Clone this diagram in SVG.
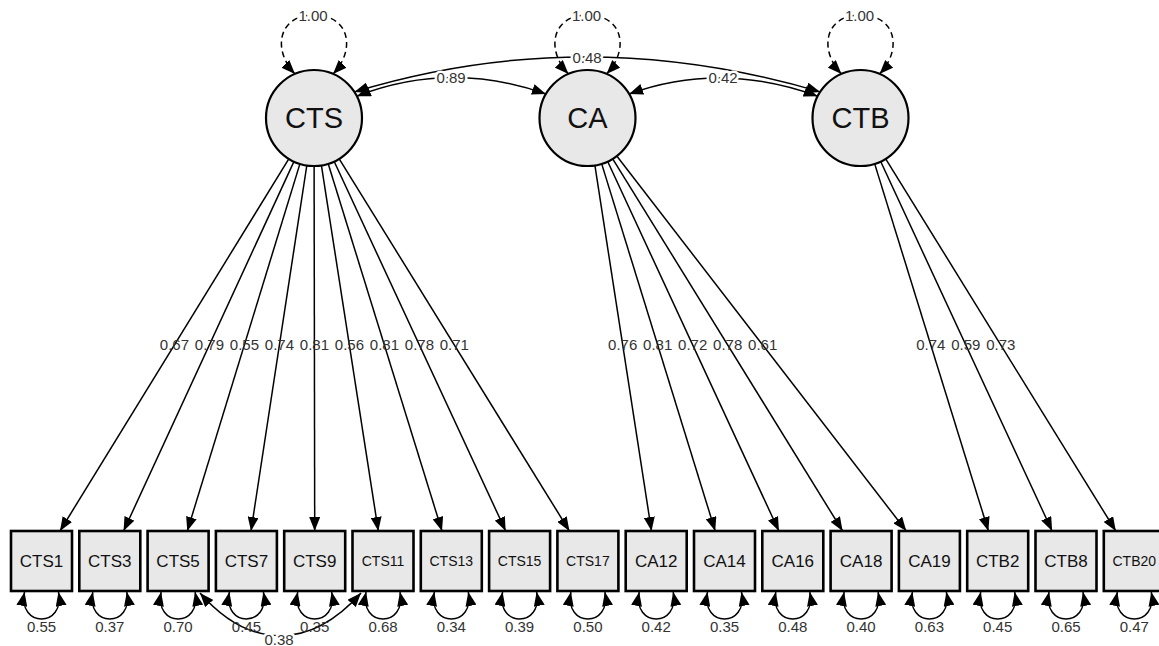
<svg xmlns="http://www.w3.org/2000/svg" width="1159" height="646" viewBox="0 0 1159 646">
  <style>
    .lat { fill: #e8e8e8; stroke: #000; stroke-width: 2.2; }
    .man { fill: #e8e8e8; stroke: #000; stroke-width: 2.6; }
    .latname { font-family: "Liberation Sans", Arial, sans-serif; font-size: 29px; fill: #111; text-anchor: middle; }
    .mname { font-family: "Liberation Sans", Arial, sans-serif; font-size: 17px; fill: #111; text-anchor: middle; }
    .mname.small { font-size: 14px; }
    .edge { fill: none; stroke: #000; stroke-width: 1.5; }
    .dir { marker-end: url(#ah); }
    .both { marker-start: url(#ah); marker-end: url(#ah); }
    .dash { stroke-dasharray: 6 4; }
    .num { font-family: "Liberation Sans", Arial, sans-serif; font-size: 15px; fill: #333; text-anchor: middle; }
    .bg { stroke: #fff; stroke-width: 5; stroke-linejoin: round; paint-order: stroke; }
  </style>
  <defs>
    <marker id="ah" viewBox="0 0 14 11" refX="14" refY="5.5" markerWidth="14" markerHeight="11" markerUnits="userSpaceOnUse" orient="auto-start-reverse">
      <path d="M0,0 L14,5.5 L0,11 z" fill="#000"/>
    </marker>
  </defs>

  <rect width="1159" height="646" fill="#fff"/>

  <!-- connectors -->
  <g id="connectors">
    <!-- latent variances -->
    <path class="edge both dash" d="M295,74 C272,50 278,15 314,15 C350,15 356,50 333,74"/>
    <path class="edge both dash" d="M568.5,74 C545.5,50 551.5,15 587.5,15 C623.5,15 629.5,50 606.5,74"/>
    <path class="edge both dash" d="M841.5,74 C818.5,50 824.5,15 860.5,15 C896.5,15 902.5,50 879.5,74"/>
    <text class="num bg" x="313" y="21">1.00</text>
    <text class="num bg" x="586.5" y="21">1.00</text>
    <text class="num bg" x="859.5" y="21">1.00</text>

    <!-- latent covariances -->
    <path class="edge both" d="M354.3,91.9 Q584,22 820.2,91.9"/>
    <path class="edge both" d="M356.8,96.2 Q450,60 545.9,94"/>
    <path class="edge both" d="M629.1,94 Q720.7,60.9 817.7,96.2"/>
    <text class="num bg" x="587" y="63">0.48</text>
    <text class="num bg" x="451" y="83">0.89</text>
    <text class="num bg" x="723" y="83">0.42</text>

    <!-- loadings: CTS -->
    <line class="edge dir" x1="288.8" y1="158.9" x2="60.0" y2="531"/>
    <line class="edge dir" x1="293.9" y1="161.6" x2="123.6" y2="531"/>
    <line class="edge dir" x1="299.9" y1="163.9" x2="187.3" y2="531"/>
    <line class="edge dir" x1="306.8" y1="165.5" x2="251.0" y2="531"/>
    <line class="edge dir" x1="314.1" y1="166" x2="314.7" y2="531"/>
    <line class="edge dir" x1="321.4" y1="165.4" x2="378.3" y2="531"/>
    <line class="edge dir" x1="328.2" y1="163.8" x2="442.0" y2="531"/>
    <line class="edge dir" x1="334.2" y1="161.5" x2="505.7" y2="531"/>
    <line class="edge dir" x1="339.2" y1="158.8" x2="569.4" y2="531"/>
    <!-- loadings: CA -->
    <line class="edge dir" x1="594.9" y1="165.4" x2="651.5" y2="531"/>
    <line class="edge dir" x1="601.7" y1="163.9" x2="715.2" y2="531"/>
    <line class="edge dir" x1="607.7" y1="161.5" x2="778.9" y2="531"/>
    <line class="edge dir" x1="612.7" y1="158.8" x2="842.6" y2="531"/>
    <line class="edge dir" x1="616.8" y1="156" x2="906.3" y2="531"/>
    <!-- loadings: CTB -->
    <line class="edge dir" x1="874.7" y1="163.9" x2="988.4" y2="531"/>
    <line class="edge dir" x1="880.7" y1="161.5" x2="1052.1" y2="531"/>
    <line class="edge dir" x1="885.7" y1="158.8" x2="1115.8" y2="531"/>

    <text class="num" x="174.4" y="350">0.67</text>
    <text class="num" x="209.4" y="350">0.79</text>
    <text class="num" x="244.4" y="350">0.55</text>
    <text class="num" x="279.4" y="350">0.74</text>
    <text class="num" x="314.4" y="350">0.81</text>
    <text class="num" x="349.4" y="350">0.56</text>
    <text class="num" x="384.4" y="350">0.81</text>
    <text class="num" x="419.4" y="350">0.78</text>
    <text class="num" x="454.3" y="350">0.71</text>
    <text class="num" x="622.7" y="350">0.76</text>
    <text class="num" x="657.7" y="350">0.81</text>
    <text class="num" x="692.7" y="350">0.72</text>
    <text class="num" x="727.7" y="350">0.78</text>
    <text class="num" x="762.7" y="350">0.61</text>
    <text class="num" x="930.8" y="350">0.74</text>
    <text class="num" x="965.8" y="350">0.59</text>
    <text class="num" x="1000.8" y="350">0.73</text>

    <!-- residual variances -->
    <path class="edge both" d="M24.5,592 C17.5,628 65.5,628 58.5,592"/>
    <path class="edge both" d="M92.8,592 C85.8,628 133.8,628 126.8,592"/>
    <path class="edge both" d="M161.1,592 C154.1,628 202.1,628 195.1,592"/>
    <path class="edge both" d="M229.4,592 C222.4,628 270.4,628 263.4,592"/>
    <path class="edge both" d="M297.7,592 C290.7,628 338.7,628 331.7,592"/>
    <path class="edge both" d="M366,592 C359,628 407,628 400,592"/>
    <path class="edge both" d="M434.3,592 C427.3,628 475.3,628 468.3,592"/>
    <path class="edge both" d="M502.6,592 C495.6,628 543.6,628 536.6,592"/>
    <path class="edge both" d="M570.9,592 C563.9,628 611.9,628 604.9,592"/>
    <path class="edge both" d="M639.2,592 C632.2,628 680.2,628 673.2,592"/>
    <path class="edge both" d="M707.5,592 C700.5,628 748.5,628 741.5,592"/>
    <path class="edge both" d="M775.8,592 C768.8,628 816.8,628 809.8,592"/>
    <path class="edge both" d="M844.1,592 C837.1,628 885.1,628 878.1,592"/>
    <path class="edge both" d="M912.4,592 C905.4,628 953.4,628 946.4,592"/>
    <path class="edge both" d="M980.7,592 C973.7,628 1021.7,628 1014.7,592"/>
    <path class="edge both" d="M1049,592 C1042,628 1090,628 1083,592"/>
    <path class="edge both" d="M1117.3,592 C1110.3,628 1158.3,628 1151.3,592"/>

    <!-- residual covariance CTS5 / CTS11 -->
    <path class="edge both" d="M200,593 C250,650 310,650 361,593"/>

    <text class="num" x="41.5" y="632">0.55</text>
    <text class="num" x="109.8" y="632">0.37</text>
    <text class="num" x="178.1" y="632">0.70</text>
    <text class="num" x="246.4" y="632">0.45</text>
    <text class="num" x="314.7" y="632">0.35</text>
    <text class="num" x="383" y="632">0.68</text>
    <text class="num" x="451.3" y="632">0.34</text>
    <text class="num" x="519.6" y="632">0.39</text>
    <text class="num" x="587.9" y="632">0.50</text>
    <text class="num" x="656.2" y="632">0.42</text>
    <text class="num" x="724.5" y="632">0.35</text>
    <text class="num" x="792.8" y="632">0.48</text>
    <text class="num" x="861.1" y="632">0.40</text>
    <text class="num" x="929.4" y="632">0.63</text>
    <text class="num" x="997.7" y="632">0.45</text>
    <text class="num" x="1066" y="632">0.65</text>
    <text class="num" x="1134.3" y="632">0.47</text>
    <text class="num bg" x="279" y="645">0.38</text>
  </g>

  <!-- latent factors -->
  <g id="CTS"><circle class="lat" cx="314" cy="118" r="48"/><text class="latname" x="314" y="128">CTS</text></g>
  <g id="CA"><circle class="lat" cx="587.5" cy="118" r="48"/><text class="latname" x="587.5" y="128">CA</text></g>
  <g id="CTB"><circle class="lat" cx="860.5" cy="118" r="48"/><text class="latname" x="860.5" y="128">CTB</text></g>

  <!-- observed indicators -->
  <g id="CTS1"><rect class="man" x="11" y="531" width="61" height="60"/><text class="mname" x="41.5" y="567">CTS1</text></g>
  <g id="CTS3"><rect class="man" x="79.3" y="531" width="61" height="60"/><text class="mname" x="109.8" y="567">CTS3</text></g>
  <g id="CTS5"><rect class="man" x="147.6" y="531" width="61" height="60"/><text class="mname" x="178.1" y="567">CTS5</text></g>
  <g id="CTS7"><rect class="man" x="215.9" y="531" width="61" height="60"/><text class="mname" x="246.4" y="567">CTS7</text></g>
  <g id="CTS9"><rect class="man" x="284.2" y="531" width="61" height="60"/><text class="mname" x="314.7" y="567">CTS9</text></g>
  <g id="CTS11"><rect class="man" x="352.5" y="531" width="61" height="60"/><text class="mname small" x="383" y="566">CTS11</text></g>
  <g id="CTS13"><rect class="man" x="420.8" y="531" width="61" height="60"/><text class="mname small" x="451.3" y="566">CTS13</text></g>
  <g id="CTS15"><rect class="man" x="489.1" y="531" width="61" height="60"/><text class="mname small" x="519.6" y="566">CTS15</text></g>
  <g id="CTS17"><rect class="man" x="557.4" y="531" width="61" height="60"/><text class="mname small" x="587.9" y="566">CTS17</text></g>
  <g id="CA12"><rect class="man" x="625.7" y="531" width="61" height="60"/><text class="mname" x="656.2" y="567">CA12</text></g>
  <g id="CA14"><rect class="man" x="694" y="531" width="61" height="60"/><text class="mname" x="724.5" y="567">CA14</text></g>
  <g id="CA16"><rect class="man" x="762.3" y="531" width="61" height="60"/><text class="mname" x="792.8" y="567">CA16</text></g>
  <g id="CA18"><rect class="man" x="830.6" y="531" width="61" height="60"/><text class="mname" x="861.1" y="567">CA18</text></g>
  <g id="CA19"><rect class="man" x="898.9" y="531" width="61" height="60"/><text class="mname" x="929.4" y="567">CA19</text></g>
  <g id="CTB2"><rect class="man" x="967.2" y="531" width="61" height="60"/><text class="mname" x="997.7" y="567">CTB2</text></g>
  <g id="CTB8"><rect class="man" x="1035.5" y="531" width="61" height="60"/><text class="mname" x="1066" y="567">CTB8</text></g>
  <g id="CTB20"><rect class="man" x="1103.8" y="531" width="61" height="60"/><text class="mname small" x="1134.3" y="566">CTB20</text></g>
</svg>
